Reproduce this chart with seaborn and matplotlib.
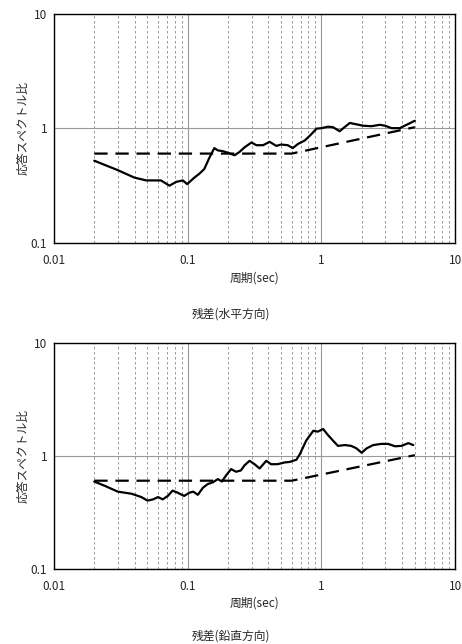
import numpy as np
import pandas as pd
import matplotlib
matplotlib.use('Agg')
import matplotlib.pyplot as plt
import matplotlib.ticker as mticker
import seaborn as sns

# Residual spectra (period in sec, spectral ratio)
period_h = [0.02, 0.03, 0.04, 0.049, 0.063, 0.073, 0.082, 0.092, 0.099, 0.112, 0.122, 0.133,
            0.145, 0.158, 0.168, 0.183, 0.2, 0.224, 0.244, 0.266, 0.3, 0.326, 0.366, 0.41,
            0.46, 0.5, 0.56, 0.61, 0.67, 0.75, 0.82, 0.92, 1.0, 1.12, 1.22, 1.37, 1.49,
            1.63, 1.83, 2.05, 2.37, 2.74, 2.99, 3.35, 3.86, 4.2, 5.0]
ratio_h = [0.52, 0.43, 0.37, 0.35, 0.35, 0.315, 0.34, 0.35, 0.325, 0.37, 0.40, 0.44,
           0.55, 0.67, 0.64, 0.63, 0.61, 0.58, 0.62, 0.68, 0.75, 0.71, 0.71, 0.76,
           0.70, 0.72, 0.71, 0.67, 0.73, 0.78, 0.86, 0.99, 1.0, 1.03, 1.02, 0.94, 1.02,
           1.11, 1.08, 1.05, 1.04, 1.07, 1.05, 1.0, 1.0, 1.05, 1.16]

period_v = [0.02, 0.024, 0.03, 0.038, 0.045, 0.05, 0.055, 0.06, 0.065, 0.071, 0.077, 0.084,
            0.094, 0.103, 0.11, 0.119, 0.13, 0.141, 0.154, 0.168, 0.18, 0.194, 0.211, 0.23,
            0.25, 0.266, 0.29, 0.316, 0.345, 0.387, 0.42, 0.47, 0.53, 0.58, 0.65, 0.69,
            0.77, 0.87, 0.94, 1.03, 1.12, 1.22, 1.33, 1.5, 1.67, 1.83, 2.0, 2.18, 2.44,
            2.8, 3.16, 3.55, 3.98, 4.47, 4.87]
ratio_v = [0.59, 0.54, 0.48, 0.46, 0.43, 0.40, 0.41, 0.43, 0.41, 0.44, 0.49, 0.47,
           0.44, 0.47, 0.48, 0.45, 0.52, 0.56, 0.58, 0.62, 0.59, 0.67, 0.76, 0.72,
           0.74, 0.82, 0.90, 0.84, 0.77, 0.90, 0.84, 0.84, 0.87, 0.88, 0.92, 1.03,
           1.36, 1.66, 1.63, 1.72, 1.52, 1.36, 1.22, 1.24, 1.22, 1.16, 1.06, 1.16, 1.24,
           1.27, 1.27, 1.21, 1.22, 1.29, 1.24]

# Reference (dashed) lines
ref_period = [0.02, 0.6, 5.0]
ref_h = [0.60, 0.60, 1.02]
ref_v = [0.60, 0.60, 1.01]

panels = [
    (period_h, ratio_h, ref_h, '残差(水平方向)'),
    (period_v, ratio_v, ref_v, '残差(鉛直方向)'),
]

sns.set_style('white')
plt.rcParams['font.family'] = ['Noto Sans CJK JP', 'DejaVu Sans']
plt.rcParams['font.size'] = 8.5

fig = plt.figure(figsize=(4.62, 6.44), dpi=100)
axes_pos = [[0.117, 0.623, 0.868, 0.356], [0.117, 0.117, 0.868, 0.351]]
title_y = [0.502, 0.002]

for (per, rat, ref, title), pos, ty in zip(panels, axes_pos, title_y):
    ax = fig.add_axes(pos)
    df = pd.DataFrame({'period': per, 'ratio': rat})
    df_ref = pd.DataFrame({'period': ref_period, 'ratio': ref})
    sns.lineplot(data=df_ref, x='period', y='ratio', ax=ax, color='black',
                 linewidth=1.6, linestyle=(0, (6, 3.5)), zorder=3)
    sns.lineplot(data=df, x='period', y='ratio', ax=ax, color='black',
                 linewidth=1.6, zorder=4)
    ax.set_xscale('log')
    ax.set_yscale('log')
    ax.set_xlim(0.01, 10)
    ax.set_ylim(0.1, 10)

    # grid: dashed minor verticals, solid majors
    ax.xaxis.set_minor_locator(mticker.LogLocator(base=10, subs=np.arange(2, 10)))
    ax.yaxis.set_minor_locator(mticker.LogLocator(base=10, subs=np.arange(2, 10)))
    ax.grid(which='minor', axis='x', color='#888888', linestyle=(0, (3, 3)), linewidth=0.6)
    ax.grid(which='major', axis='both', color='#999999', linestyle='-', linewidth=0.8)
    ax.xaxis.set_major_formatter(mticker.FuncFormatter(lambda v, p: f'{v:g}'))
    ax.yaxis.set_major_formatter(mticker.FuncFormatter(lambda v, p: f'{v:g}'))
    ax.tick_params(axis='x', which='both', length=0, pad=8)
    ax.tick_params(axis='y', which='major', length=0, pad=5)
    ax.tick_params(axis='y', which='minor', direction='in', length=3, width=0.6, color='#555555')
    for s in ax.spines.values():
        s.set_color('black')
        s.set_linewidth(1.0)

    ax.set_xlabel('周期(sec)', labelpad=3)
    ax.set_ylabel('応答スペクトル比', labelpad=1)
    fig.text(0.5, ty, title, ha='center', va='bottom')

plt.savefig('out.png', dpi=100)
